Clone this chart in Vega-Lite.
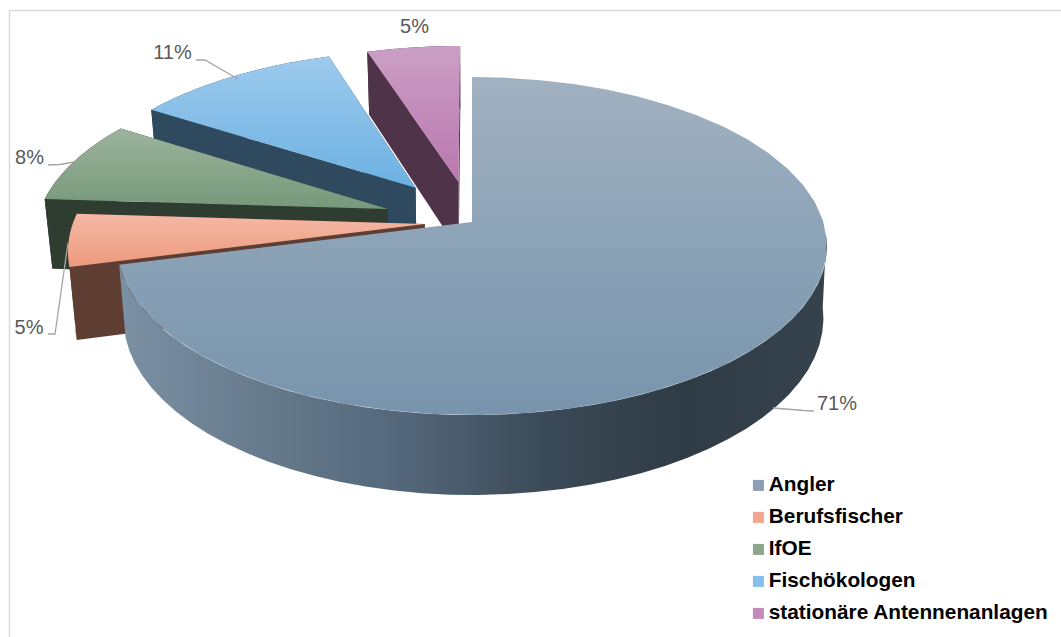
{
"$schema":"https://vega.github.io/schema/vega-lite/v6.json",
"width":1061,"height":637,"padding":0,"autosize":{"type":"none"},
"background":"white","view":{"stroke":null},
"data":{"values":[
{"name":"Angler","value":71},
{"name":"Berufsfischer","value":5},
{"name":"IfOE","value":8},
{"name":"Fischökologen","value":11},
{"name":"stationäre Antennenanlagen","value":5}
]},
"transform":[
{"joinaggregate":[{"op":"sum","field":"value","as":"total"}]},
{"window":[{"op":"sum","field":"value","as":"cum"}]},
{"calculate":"2*PI*(datum.cum-datum.value)/datum.total","as":"th1"},
{"calculate":"2*PI*datum.cum/datum.total","as":"th2"},
{"calculate":"(datum.th1+datum.th2)/2","as":"mid"},
{"calculate":"{'Angler':0,'Berufsfischer':0.135,'IfOE':0.255,'Fischökologen':0.27,'stationäre Antennenanlagen':0.255}[datum.name]","as":"explode"},
{"calculate":"datum.name=='Angler' ? 0.37 : 0","as":"wallStart"},
{"calculate":"['top','wall','face1','face2']","as":"part"},
{"flatten":["part"]},
{"calculate":"[0,1,2,3,4,5,6,7,8,9,10,11,12,13,14,15,16,17,18,19,20,21,22,23,24,25,26,27,28,29,30,31,32,33,34,35,36,37,38,39,40,41,42,43,44,45,46,47,48,49,50,51,52,53,54,55,56,57,58,59,60,61,62,63,64,65,66,67,68,69,70,71,72,73,74,75,76,77,78,79,80,81]","as":"n"},
{"flatten":["n"]},
{"filter":"datum.part=='wall' || (datum.part=='top' && datum.n<=41) || datum.n<=3"},
{"calculate":"datum.part=='top' ? max(datum.n-1,0)/40 : datum.part=='wall' ? datum.wallStart+(1-datum.wallStart)*(datum.n<=40 ? datum.n/40 : (81-datum.n)/40) : datum.part=='face1' ? 0 : 1","as":"u"},
{"calculate":"datum.part=='wall' ? (datum.n>40 ? 1 : 0) : datum.part=='top' ? 0 : (datum.n>=2 ? 1 : 0)","as":"lower"},
{"calculate":"(datum.part=='top' && datum.n==0) || ((datum.part=='face1' || datum.part=='face2') && (datum.n==0 || datum.n==3)) ? 0 : 1","as":"rim"},
{"calculate":"datum.th1+(datum.th2-datum.th1)*datum.u","as":"th"},
{"calculate":"datum.rim*sin(datum.th)+datum.explode*sin(datum.mid)","as":"planX"},
{"calculate":"datum.rim*cos(datum.th)+datum.explode*cos(datum.mid)","as":"planY"},
{"calculate":"1/(1+0.142*datum.planY)","as":"persp"},
{"calculate":"472+351.4*datum.planX*datum.persp","as":"x0"},
{"calculate":"222-165.6*datum.planY*datum.persp","as":"y0"},
{"calculate":"datum.lower ? 472+(datum.x0>472 ? 0.99 : 0.982)*(datum.x0-472) : datum.x0","as":"px"},
{"calculate":"datum.lower ? 292.9+1.047*(datum.y0-222) : datum.y0","as":"py"}
],
"encoding":{
"x":{"field":"px","type":"quantitative","scale":{"domain":[0,1061],"nice":false,"zero":false},"axis":null},
"y":{"field":"py","type":"quantitative","scale":{"domain":[637,0],"nice":false,"zero":false},"axis":null},
"order":{"field":"n","type":"quantitative"}
},
"layer":[
{"transform":[{"filter":"datum.name=='Angler' && datum.part=='top' && datum.n==0"}],"mark":{"type":"rule","color":"#d9d9d9","strokeWidth":1.5},"encoding":{"x":{"datum":9.5},"y":{"datum":10.5},"y2":{"datum":637}}},
{"transform":[{"filter":"datum.name=='Angler' && datum.part=='top' && datum.n==0"}],"mark":{"type":"rule","color":"#d9d9d9","strokeWidth":1.5},"encoding":{"y":{"datum":10.5},"x":{"datum":9.5},"x2":{"datum":1061}}},

{"transform":[{"filter":"datum.name=='stationäre Antennenanlagen' && datum.part=='wall'"}],"mark":{"type":"line","fill":"#4f3449","strokeWidth":0}},
{"transform":[{"filter":"datum.name=='stationäre Antennenanlagen' && datum.part=='face2'"}],"mark":{"type":"line","fill":"#4f3449","strokeWidth":0}},
{"transform":[{"filter":"datum.name=='stationäre Antennenanlagen' && datum.part=='face1'"}],"mark":{"type":"line","fill":"#4f3449","strokeWidth":0}},
{"transform":[{"filter":"datum.name=='stationäre Antennenanlagen' && datum.part=='top'"}],"mark":{"type":"line","strokeWidth":0,"fill":{"gradient":"linear","x1":0,"y1":0,"x2":0,"y2":1,"stops":[{"offset":0,"color":"#cb9fc5"},{"offset":1,"color":"#ba77af"}]}}},

{"transform":[{"filter":"datum.name=='Fischökologen' && datum.part=='wall'"}],"mark":{"type":"line","fill":"#2f4a5e","strokeWidth":0}},
{"transform":[{"filter":"datum.name=='Fischökologen' && datum.part=='face2'"}],"mark":{"type":"line","fill":"#2f4a5e","strokeWidth":0}},
{"transform":[{"filter":"datum.name=='Fischökologen' && datum.part=='face1'"}],"mark":{"type":"line","fill":"#2f4a5e","strokeWidth":0}},
{"transform":[{"filter":"datum.name=='Fischökologen' && datum.part=='top'"}],"mark":{"type":"line","strokeWidth":0,"fill":{"gradient":"linear","x1":0,"y1":0,"x2":0,"y2":1,"stops":[{"offset":0,"color":"#9ecaed"},{"offset":1,"color":"#6bb1e2"}]}}},

{"transform":[{"filter":"datum.name=='IfOE' && datum.part=='wall'"}],"mark":{"type":"line","fill":"#2f3d30","strokeWidth":0}},
{"transform":[{"filter":"datum.name=='IfOE' && datum.part=='face2'"}],"mark":{"type":"line","fill":"#2f3d30","strokeWidth":0}},
{"transform":[{"filter":"datum.name=='IfOE' && datum.part=='face1'"}],"mark":{"type":"line","fill":"#2f3d30","strokeWidth":0}},
{"transform":[{"filter":"datum.name=='IfOE' && datum.part=='top'"}],"mark":{"type":"line","strokeWidth":0,"fill":{"gradient":"linear","x1":0,"y1":0,"x2":0,"y2":1,"stops":[{"offset":0,"color":"#9cb49d"},{"offset":1,"color":"#77987a"}]}}},

{"transform":[{"filter":"datum.name=='Berufsfischer' && datum.part=='wall'"}],"mark":{"type":"line","fill":"#5e3d32","strokeWidth":0}},
{"transform":[{"filter":"datum.name=='Berufsfischer' && datum.part=='face2'"}],"mark":{"type":"line","fill":"#5e3d32","strokeWidth":0}},
{"transform":[{"filter":"datum.name=='Berufsfischer' && datum.part=='face1'"}],"mark":{"type":"line","fill":"#5e3d32","strokeWidth":0}},
{"transform":[{"filter":"datum.name=='Berufsfischer' && datum.part=='top'"}],"mark":{"type":"line","strokeWidth":0,"fill":{"gradient":"linear","x1":0,"y1":0,"x2":0,"y2":1,"stops":[{"offset":0,"color":"#f4b8a5"},{"offset":1,"color":"#ee9a7e"}]}}},

{"transform":[{"filter":"datum.name=='Angler' && datum.part=='face1'"}],"mark":{"type":"line","fill":"#3a4a58","strokeWidth":0}},
{"transform":[{"filter":"datum.name=='Angler' && datum.part=='wall'"}],"mark":{"type":"line","strokeWidth":0,"fill":{"gradient":"linear","x1":0,"y1":0,"x2":1,"y2":0,"stops":[{"offset":0,"color":"#7b90a2"},{"offset":0.4,"color":"#54677a"},{"offset":0.6,"color":"#3b4a57"},{"offset":0.8,"color":"#2f3b45"},{"offset":1,"color":"#36434d"}]}}},
{"transform":[{"filter":"datum.name=='Angler' && datum.part=='top'"}],"mark":{"type":"line","strokeWidth":0,"fill":{"gradient":"linear","x1":0,"y1":0,"x2":0,"y2":1,"stops":[{"offset":0,"color":"#a1b1c1"},{"offset":1,"color":"#7794ac"}]}}},

{"transform":[
{"filter":"datum.part=='face1' && datum.n<=2 && datum.name!='stationäre Antennenanlagen'"},
{"calculate":"{'Angler':[814,804,773],'Berufsfischer':[48,55,68],'IfOE':[48,60,74],'Fischökologen':[196,205,238]}[datum.name][datum.n]","as":"lineX"},
{"calculate":"{'Angler':[411,410.5,408],'Berufsfischer':[334,334,243],'IfOE':[165,164.5,162],'Fischökologen':[60,60,79]}[datum.name][datum.n]","as":"lineY"}
],"mark":{"type":"line","color":"#a6a6a6","strokeWidth":1.3},
"encoding":{"x":{"field":"lineX","type":"quantitative"},"y":{"field":"lineY","type":"quantitative"},"detail":{"field":"name"}}},

{"transform":[
{"filter":"datum.part=='top' && datum.n==0"},
{"calculate":"format(datum.value,'d')+'%'","as":"pct"},
{"calculate":"{'Angler':837,'Berufsfischer':29,'IfOE':29.5,'Fischökologen':172.5,'stationäre Antennenanlagen':414.5}[datum.name]","as":"labelX"},
{"calculate":"{'Angler':403.5,'Berufsfischer':328,'IfOE':158,'Fischökologen':53,'stationäre Antennenanlagen':27}[datum.name]","as":"labelY"}
],"mark":{"type":"text","font":"Liberation Sans","fontSize":20,"color":"#595959","align":"center","baseline":"middle"},
"encoding":{"x":{"field":"labelX","type":"quantitative"},"y":{"field":"labelY","type":"quantitative"},"text":{"field":"pct","type":"nominal"}}},

{"transform":[{"filter":"datum.part=='top' && datum.n==0"}],
"mark":{"type":"point","filled":true,"size":0},
"encoding":{"color":{"field":"name","type":"nominal","sort":null,
"scale":{"domain":["Angler","Berufsfischer","IfOE","Fischökologen","stationäre Antennenanlagen"],"range":["#8a9fb3","#f2a88f","#8aa78c","#85c0ec","#c28bbb"]},
"legend":{"orient":"none","legendX":748,"legendY":475,"title":null,"symbolType":"square","symbolSize":121,"symbolStrokeWidth":0,"symbolOpacity":1,"labelFont":"Liberation Sans","labelFontSize":20.8,"labelFontWeight":"bold","labelColor":"#000000","labelLimit":400,"labelOffset":0,"rowPadding":10,"padding":0}}}}
]
}
